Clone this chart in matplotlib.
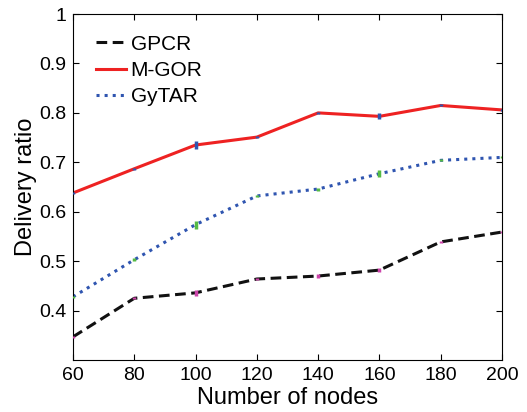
import matplotlib
matplotlib.use('Agg')
import matplotlib.pyplot as plt

plt.rcParams['font.family'] = ['Liberation Sans', 'DejaVu Sans']

# Datos
nodos = [60, 80, 100, 120, 140, 160, 180, 200]
gpcr = [0.347, 0.425, 0.436, 0.464, 0.470, 0.482, 0.539, 0.559]
mgor = [0.638, 0.687, 0.735, 0.751, 0.800, 0.793, 0.815, 0.806]
gytar = [0.428, 0.503, 0.574, 0.632, 0.646, 0.677, 0.704, 0.710]
err_gpcr = [0.002, 0.002, 0.006, 0.003, 0.004, 0.004, 0.002, 0.002]
err_mgor = [0.002, 0.002, 0.008, 0.002, 0.002, 0.006, 0.002, 0.002]
err_gytar = [0.002, 0.003, 0.008, 0.002, 0.003, 0.007, 0.002, 0.002]

fig = plt.figure(figsize=(5.27, 4.12), dpi=100)
ax = fig.add_axes([0.1385, 0.126, 0.814, 0.840])

ax.errorbar(nodos, gpcr, yerr=err_gpcr, fmt='none', ecolor='#cc44aa', elinewidth=2.5, zorder=3)
ax.errorbar(nodos, mgor, yerr=err_mgor, fmt='none', ecolor='#2f55b0', elinewidth=2.5, zorder=3)
ax.errorbar(nodos, gytar, yerr=err_gytar, fmt='none', ecolor='#55bb44', elinewidth=2.5, zorder=3)

ax.plot(nodos, gpcr, '--', color='#111111', lw=2.2, dashes=(3.5, 1.8), label='GPCR', zorder=2)
ax.plot(nodos, mgor, '-', color='#ee2222', lw=2.2, label='M-GOR', zorder=2)
ax.plot(nodos, gytar, ':', color='#2f55b0', lw=2.2, label='GyTAR', zorder=2)

ax.set_xlim(60, 200)
ax.set_ylim(0.3, 1.0)
ax.set_xticks(nodos)
ax.set_yticks([0.4, 0.5, 0.6, 0.7, 0.8, 0.9, 1.0])
ax.set_yticklabels(['0.4', '0.5', '0.6', '0.7', '0.8', '0.9', '1'])
ax.tick_params(direction='in', top=True, right=True, labelsize=14, length=4, pad=5)
ax.set_xlabel('Number of nodes', fontsize=17, labelpad=2)
ax.set_ylabel('Delivery ratio', fontsize=17, labelpad=1)
ax.legend(loc='upper left', bbox_to_anchor=(0.054, 0.94), frameon=False, fontsize=15,
          handlelength=1.45, labelspacing=0.35, handletextpad=0.2,
          borderpad=0, borderaxespad=0)

plt.savefig('out.png', dpi=100)
